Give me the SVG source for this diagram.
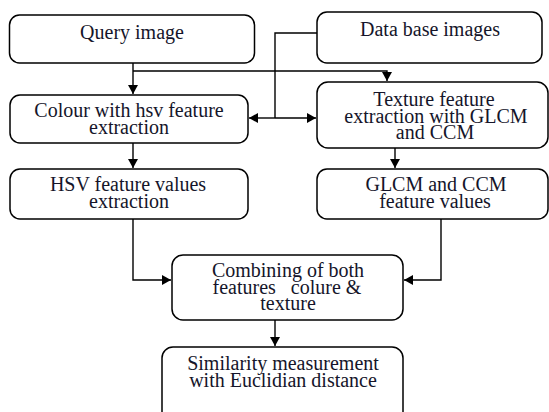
<svg xmlns="http://www.w3.org/2000/svg" width="549" height="412" viewBox="0 0 549 412">
<style>
.box{fill:#fff;stroke:#000;stroke-width:1.5}
.c{fill:none;stroke:#000;stroke-width:1.4}
</style>
<defs>
<marker id="ah" markerWidth="10" markerHeight="10" refX="9" refY="5" orient="auto" markerUnits="userSpaceOnUse">
<path d="M0,0 L9,5 L0,10 Z" fill="#000"/>
</marker>
</defs>
<rect width="549" height="412" fill="#fff"/>
<g id="connectors">
<path class="c" d="M133,63 V94" marker-end="url(#ah)"/>
<path class="c" d="M133,71 H387 V81" marker-end="url(#ah)"/>
<path class="c" d="M317,33 H275 V118"/>
<path class="c" d="M275,118 H249" marker-end="url(#ah)"/>
<path class="c" d="M275,118 H316" marker-end="url(#ah)"/>
<path class="c" d="M133,143 V168" marker-end="url(#ah)"/>
<path class="c" d="M395,148 V168" marker-end="url(#ah)"/>
<path class="c" d="M133,219 V280 H171" marker-end="url(#ah)"/>
<path class="c" d="M441,219 V280 H404" marker-end="url(#ah)"/>
<path class="c" d="M275,320 V346" marker-end="url(#ah)"/>
</g>
<g font-family="Liberation Serif" font-size="20" fill="#15152a" text-anchor="middle">
<g id="query">
<rect class="box" x="9.5" y="15" width="245" height="48" rx="10"/>
<text x="132" y="39">Query image</text>
</g>
<g id="database">
<rect class="box" x="317" y="12" width="225" height="51" rx="10"/>
<text x="430" y="36">Data base images</text>
</g>
<g id="colour">
<rect class="box" x="10" y="95" width="238" height="48" rx="10"/>
<text x="129" y="117">Colour with hsv feature</text>
<text x="129" y="134">extraction</text>
</g>
<g id="texture">
<rect class="box" x="317" y="82" width="231" height="66" rx="11"/>
<text x="434" y="106">Texture feature</text>
<text x="436" y="123">extraction with GLCM</text>
<text x="435" y="139">and CCM</text>
</g>
<g id="hsv">
<rect class="box" x="10" y="169" width="238" height="50" rx="10"/>
<text x="128" y="191">HSV feature values</text>
<text x="129" y="208">extraction</text>
</g>
<g id="glcm">
<rect class="box" x="317" y="169" width="231" height="50" rx="10"/>
<text x="436" y="191">GLCM and CCM</text>
<text x="435" y="208">feature values</text>
</g>
<g id="combining">
<rect class="box" x="172" y="255" width="231" height="65" rx="11"/>
<text x="288" y="277">Combining of both</text>
<text x="287" y="294" xml:space="preserve">features   colure &amp;</text>
<text x="288" y="310">texture</text>
</g>
<g id="similarity">
<rect class="box" x="162" y="347" width="241" height="80" rx="11"/>
<text x="283" y="370">Similarity measurement</text>
<text x="283" y="387">with Euclidian distance</text>
</g>
</g>
</svg>
